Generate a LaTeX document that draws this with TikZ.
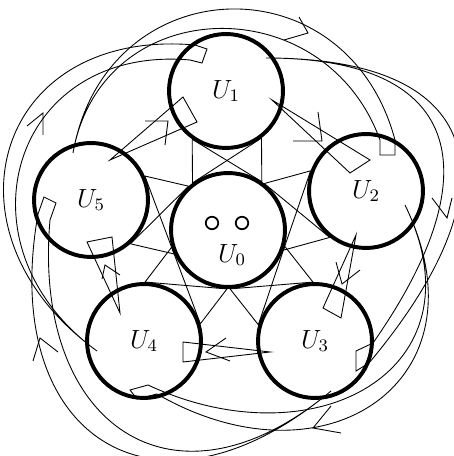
\documentclass[tikz,border=0pt]{standalone}
\usepackage{amsmath,amssymb}

\begin{document}
\begin{tikzpicture}[x=0.016cm,y=0.016cm]
        \tikzstyle{set}=[circle, draw, line width=1.8pt, minimum size=1.824cm, inner sep=0pt, font=\large]
        \tikzstyle{dot}=[circle, draw, thick, minimum size=0.2cm, inner sep=0pt]
        \useasboundingbox (0,0) rectangle (453,456);

            \node[set](U0) at (228,226){};
            \node[set](U1) at (226,365){$U_1$};
            \node[set](U2) at (366,265){$U_2$};
            \node[set](U3) at (315,115){$U_3$};
            \node[set](U4) at (144,115){$U_4$};
            \node[set](U5) at (91,256){$U_5$};

            \node[dot](d1) at (212,233){};
            \node[dot](d2) at (242,233){};
            \node[font=\large](l0) at (232,201){$U_0$};

            % U0 to every outer set
            \foreach \k/\a/\b/\c/\d in {1/127/55/235/307, 2/52/340/160/232, 3/344/272/92/164, 4/269/197/17/89, 5/204/132/312/24}
            {
            \draw (U0.\a) -- (U\k.\c);
            \draw (U0.\b) -- (U\k.\d);
            \draw (U0.\a) -- (U\k.\d);
            \draw (U0.\b) -- (U\k.\c);
            }

            % short arrows between neighbours
            \foreach \i/\t/\p/\q in {51/{110,296}/{183,359}/{197,334}, 12/{272,356}/{370,296}/{350,283}, 23/{356,221}/{341,138}/{323,148}, 34/{270,104}/{183,114}/{183,94}, 45/{120,143}/{87,214}/{112,219}}
            {
            \coordinate (t\i) at (\t);
            \coordinate (p\i) at (\p);
            \coordinate (q\i) at (\q);
            \draw (t\i) -- (p\i) -- (q\i) -- cycle;
            }

            % long arrows round the outside
            \foreach \i/\t/\ea/\qa/\qb/\eb/\o/\ia/\ib/\la/\lb in {52/{73,303}/{380,316}/{380,301}/{395,301}/{395,316}/80/110/105/1.36/1.49,
              13/{266,398}/{373,113}/{356,105}/{356,85}/{369,93}/0/55/50/1.7/1.8,
              24/{405,251}/{148,71}/{130,66}/{137,57}/{157,62}/-64/-25/-30/1.5/1.6,
              35/{331,65}/{50,236}/{56,253}/{44,259}/{38,242}/220/265/260/1.6/1.7,
              41/{97,105}/{190,396}/{202,393}/{207,407}/{195,411}/144/175/175/1.5/1.6}
            {
            \coordinate (t\i) at (\t);
            \coordinate (e\i) at (\ea);
            \coordinate (q\i) at (\qa);
            \coordinate (r\i) at (\qb);
            \coordinate (f\i) at (\eb);
            \draw (t\i) to[out=\o,in=\ia,looseness=\la] (e\i) -- (q\i) -- (r\i) -- (f\i) to[out=\ib,in=\o,looseness=\lb] (t\i);
            }

            % arrow marks
            \foreach \i/\c/\m/\n in {51/{168,335}/{145,335}/{165,311}, 12/{322,315}/{293,315}/{318,344}, 23/{342,172}/{336,194}/{360,186}, 34/{206,104}/{226,118}/{230,95}, 45/{105,191}/{102,177}/{120,181},
              52/{308,423}/{284,416}/{299,439}, 13/{447,238}/{432,258}/{452,258}, 24/{313,28}/{331,50}/{341,23}, 35/{40,118}/{33,95}/{58,104}, 41/{43,343}/{43,321}/{27,330}}
            {
            \coordinate (c\i) at (\c);
            \coordinate (m\i) at (\m);
            \coordinate (n\i) at (\n);
            \draw (m\i) -- (c\i) -- (n\i);
            }

\end{tikzpicture}
\end{document}
